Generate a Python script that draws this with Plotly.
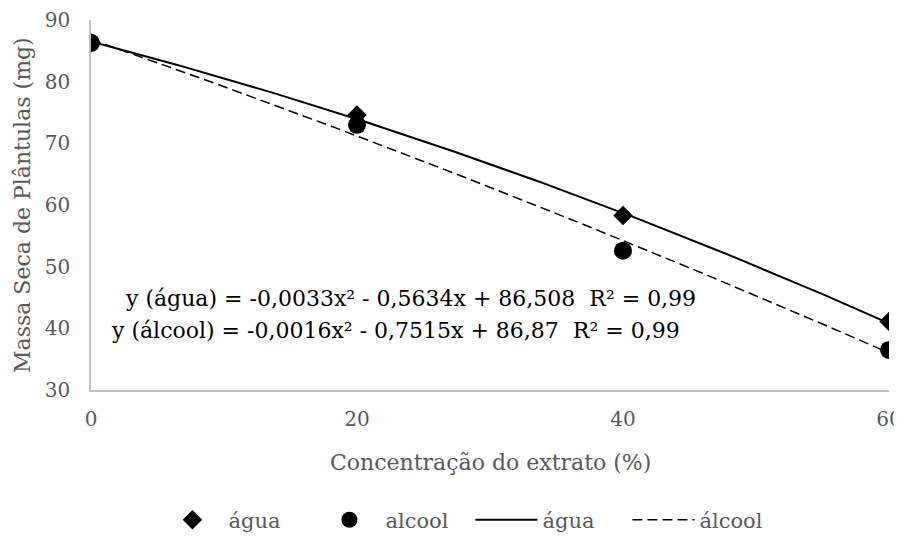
import numpy as np
import plotly.graph_objects as go

concentracao = [0, 20, 40, 60]
agua = [86.3, 74.6, 58.3, 41.1]
alcool = [86.3, 73.0, 52.6, 36.5]

coef_agua = [-0.0033, -0.5634, 86.508]
coef_alcool = [-0.0016, -0.7515, 86.87]

eq_agua = "y (água) = -0,0033x² - 0,5634x + 86,508  R² = 0,99"
eq_alcool = "y (álcool) = -0,0016x² - 0,7515x + 86,87  R² = 0,99"
x_title = "Concentração do extrato (%)"
y_title = "Massa Seca de Plântulas (mg)"

xs = np.linspace(0, 60, 121)
fit_agua = np.polyval(coef_agua, xs)
fit_alcool = np.polyval(coef_alcool, xs)

FONT = "DejaVu Serif"
GRAY = "#595959"

fig = go.Figure()
fig.add_trace(go.Scatter(x=concentracao, y=agua, mode="markers", name="água",
                         marker=dict(symbol="diamond", size=15, color="black")))
fig.add_trace(go.Scatter(x=concentracao, y=alcool, mode="markers", name="alcool",
                         marker=dict(symbol="circle", size=18, color="black")))
fig.add_trace(go.Scatter(x=xs, y=fit_agua, mode="lines", name="água",
                         line=dict(color="black", width=2)))
fig.add_trace(go.Scatter(x=xs, y=fit_alcool, mode="lines", name="álcool",
                         line=dict(color="black", width=1.5, dash="10px,5px")))

fig.add_annotation(x=0.40, y=0.246, xref="paper", yref="paper", xanchor="center",
                   yanchor="middle", showarrow=False, text=eq_agua,
                   font=dict(family=FONT, size=22, color="black"))
fig.add_annotation(x=0.381, y=0.162, xref="paper", yref="paper", xanchor="center",
                   yanchor="middle", showarrow=False, text=eq_alcool,
                   font=dict(family=FONT, size=22, color="black"))
fig.add_annotation(x=0.5, y=-0.195, xref="paper", yref="paper", xanchor="center",
                   yanchor="middle", showarrow=False, text=x_title,
                   font=dict(family=FONT, size=22, color=GRAY))
fig.add_annotation(x=-0.0865, y=0.5, xref="paper", yref="paper", xanchor="center",
                   yanchor="middle", showarrow=False, text=y_title, textangle=-90,
                   font=dict(family=FONT, size=22, color=GRAY))

fig.update_layout(
    width=894, height=529,
    margin=dict(l=83, r=13, t=12, b=147),
    paper_bgcolor="white", plot_bgcolor="white",
    font=dict(family=FONT, size=20, color=GRAY),
    showlegend=True,
    legend=dict(orientation="h", x=0.082, xanchor="left", xref="paper",
                y=0.032, yanchor="middle", yref="container",
                font=dict(family=FONT, size=21, color=GRAY), itemwidth=62,
                entrywidth=80),
    xaxis=dict(range=[0, 60], tickvals=[0, 20, 40, 60], showgrid=False, zeroline=False,
               showline=True, linecolor="#BFBFBF", linewidth=1.5, automargin=False,
               ticks="", ticklabelstandoff=10),
    yaxis=dict(range=[30, 90], tickvals=[30, 40, 50, 60, 70, 80, 90], showgrid=False,
               zeroline=False, showline=True, linecolor="#BFBFBF", linewidth=1.5,
               automargin=False, ticks="", ticklabelstandoff=15),
)

fig.write_html("out.html")
